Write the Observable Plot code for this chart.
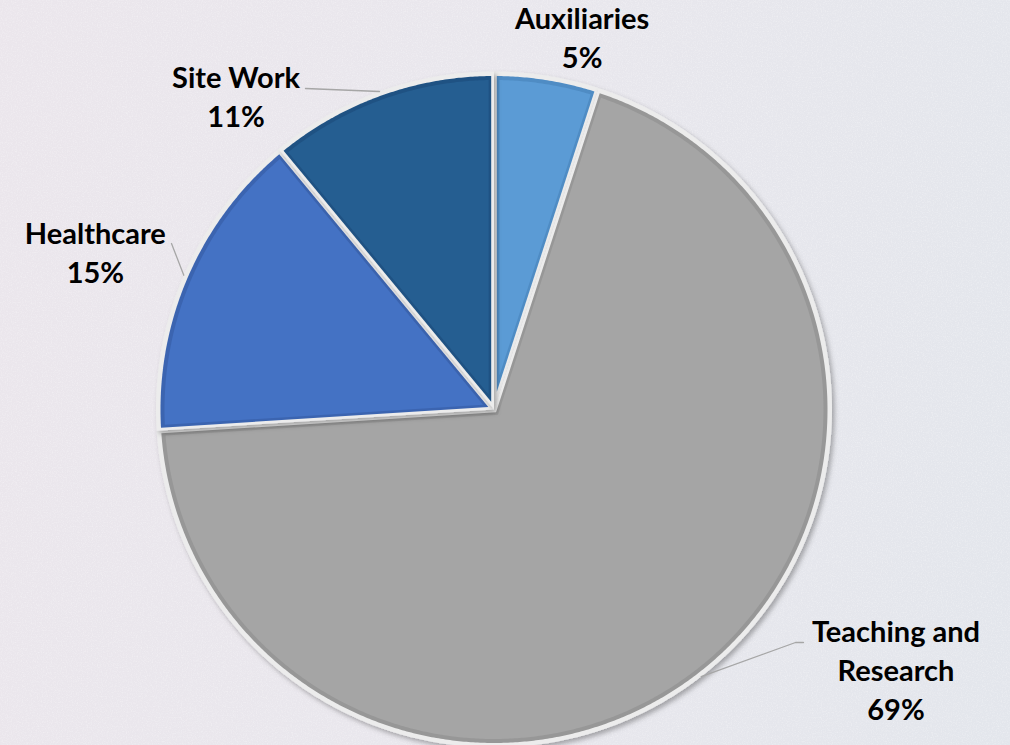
<!DOCTYPE html>
<html><head><meta charset="utf-8">
<script src="https://cdn.jsdelivr.net/npm/d3@7"></script>
<script src="https://cdn.jsdelivr.net/npm/@observablehq/plot@0.6"></script>
<style>
html,body{margin:0;padding:0;width:1010px;height:745px;overflow:hidden}
body{background:linear-gradient(100deg,#ebe6ec 0%,#e9e7ed 45%,#e3e6ec 100%);position:relative}
#noise{position:absolute;left:0;top:0}
#chart{position:absolute;left:0;top:0}
</style></head><body>
<svg id="noise" width="1010" height="745"><filter id="nz"><feTurbulence type="fractalNoise" baseFrequency="0.8" numOctaves="2" seed="4"/><feColorMatrix type="matrix" values="0 0 0 0 1  0 0 0 0 1  0 0 0 0 1  1.2 0 0 0 -0.55"/></filter><rect width="1010" height="745" filter="url(#nz)" opacity="0.6"/></svg>
<div id="chart"></div>
<script>
// ---- data ----
const categories = ["Auxiliaries", "Teaching and Research", "Healthcare", "Site Work"];
const labelNames = ["Auxiliaries", "Teaching and\nResearch", "Healthcare", "Site Work"];
const values = [5, 69, 15, 11];
const fillColors = ["#5b9bd5", "#a5a5a5", "#4472c4", "#255e91"];
const edgeColors = ["#4f8cc4", "#979797", "#3b64b0", "#1f5283"];

// ---- layout (radius units, 1 = pie radius) ----
const PX = 1 / 335;                 // one pixel in radius units
const W = 1010, H = 745, CX = 493.5, CY = 409, R = 335;
const ringR = 338 * PX, darkR = 333.5 * PX, mainR = 329.5 * PX;
const ringInset = 0, darkInset = 2.8 * PX, mainInset = 5.4 * PX;
const lightColor = "#ececec";
const labelPos = {
  "Auxiliaries": [0.263, 1.018],
  "Teaching and Research": [1.2, -0.928],
  "Healthcare": [-1.19, 0.379],
  "Site Work": [-0.77, 0.842]
};
const leaderPts = {
  "Site Work": [[-0.5627, 0.9582]],
  "Healthcare": [[-0.9627, 0.4955]],
  "Teaching and Research": [[0.9239, -0.6955], [0.9, -0.6955]]
};

// ---- pie geometry ----
const total = d3.sum(values);
let acc = 0;
const slices = categories.map((name, i) => {
  const a0 = acc / total * 2 * Math.PI;
  acc += values[i];
  const a1 = acc / total * 2 * Math.PI;
  return {name, i, a0, a1, value: values[i]};
});
function wedge(s, r, d) {
  const pts = [];
  const h = (s.a1 - s.a0) / 2, m = (s.a0 + s.a1) / 2;
  const dist = d > 0 ? d / Math.sin(h) : 0;
  const vx = dist * Math.sin(m), vy = dist * Math.cos(m);
  pts.push([vx, vy]);
  const del = Math.asin(d / r);
  const b0 = s.a0 + del, b1 = s.a1 - del;
  const n = Math.max(4, Math.ceil((b1 - b0) * 180 / Math.PI / 0.4));
  for (let k = 0; k <= n; k++) {
    const a = b0 + (b1 - b0) * k / n;
    pts.push([r * Math.sin(a), r * Math.cos(a)]);
  }
  pts.push([vx, vy]);
  return pts;
}
const polys = [];
slices.forEach(s => {
  [[ringR, ringInset, lightColor], [darkR, darkInset, edgeColors[s.i]], [mainR, mainInset, fillColors[s.i]]]
    .forEach(([r, d, c], layer) => {
      wedge(s, r, d).forEach(([x, y]) => polys.push({key: s.name + "-" + layer, x, y, c}));
    });
});

const labels = slices.map(s => ({
  text: labelNames[s.i] + "\n" + s.value + "%",
  x: labelPos[s.name][0], y: labelPos[s.name][1]
}));

const leaders = [];
slices.forEach(s => {
  if (!leaderPts[s.name]) return;
  const m = (s.a0 + s.a1) / 2;
  leaderPts[s.name].forEach(([x, y]) => leaders.push({name: s.name, x, y}));
  leaders.push({name: s.name, x: ringR * Math.sin(m), y: ringR * Math.cos(m)});
});

const chart = Plot.plot({
  width: W, height: H, margin: 0,
  x: {domain: [-CX / R, (W - CX) / R], axis: null},
  y: {domain: [-(H - CY) / R, CY / R], axis: null},
  color: {type: "identity"},
  style: {background: "none", overflow: "visible"},
  marks: [
    Plot.line(polys, {x: "x", y: "y", z: "key", fill: "c", stroke: "none", curve: "linear"}),
    Plot.line(leaders, {x: "x", y: "y", z: "name", stroke: "#a6a6a6", strokeWidth: 1.3}),
    Plot.text(labels, {x: "x", y: "y", text: "text", lineAnchor: "bottom", textAnchor: "middle",
      lineHeight: 1.345, fontSize: 29, fontWeight: "bold", fill: "#000",
      fontFamily: "Lato, 'Open Sans', sans-serif"})
  ]
});
document.getElementById("chart").appendChild(chart);

// drop shadow on each slice (outer light layer)
const ns = "http://www.w3.org/2000/svg";
const defs = document.createElementNS(ns, "defs");
defs.innerHTML = '<filter id="shadow" x="-20%" y="-20%" width="140%" height="140%"><feDropShadow dx="2.5" dy="3" stdDeviation="2.5" flood-color="#000" flood-opacity="0.3"/></filter>';
chart.insertBefore(defs, chart.firstChild);
const g = chart.querySelectorAll(":scope > g")[0];
g.querySelectorAll("path").forEach((p, i) => { if (i % 3 === 0) p.setAttribute("filter", "url(#shadow)"); });
</script>
</body></html>
